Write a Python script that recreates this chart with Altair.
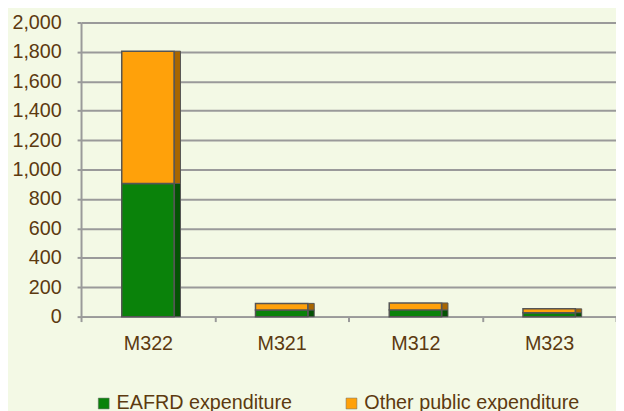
import altair as alt
import pandas as pd

categories = ["M322", "M321", "M312", "M323"]
eafrd = [905, 45, 46, 27]
other = [900, 45, 47, 26]
series = ["EAFRD expenditure", "Other public expenditure"]
front_colors = ["#0a820a", "#ffa10a"]
side_colors = ["#045204", "#a86600"]
y_ticks = list(range(0, 2001, 200))

rows = []
for c, e, o in zip(categories, eafrd, other):
    rows.append({"measure": c, "series": series[0], "value": e, "order": 0})
    rows.append({"measure": c, "series": series[1], "value": o, "order": 1})
df = pd.DataFrame(rows)

text_color = "#5c3a10"
font = "Liberation Sans"
line_gray = "#9a9a9a"

x_scale = alt.Scale(domain=categories, paddingInner=0, paddingOuter=0)
y_scale = alt.Scale(domain=[0, 2000], nice=False)
x_axis = alt.Axis(labelAngle=0, tickBand="extent", tickSize=5, labelPadding=12, grid=False)
y_axis = alt.Axis(values=y_ticks, format=",d", tickSize=4, labelPadding=16, grid=True)

front = alt.Chart(df).mark_bar(size=53, stroke="#555555", strokeWidth=1.5).encode(
    x=alt.X("measure:N", sort=categories, title=None, scale=x_scale, axis=x_axis),
    y=alt.Y("value:Q", stack="zero", title=None, scale=y_scale, axis=y_axis),
    order=alt.Order("order:Q"),
    color=alt.Color(
        "series:N",
        scale=alt.Scale(domain=series, range=front_colors),
        legend=alt.Legend(
            orient="none", legendX=13, legendY=376, direction="horizontal",
            title=None, symbolType="square", symbolSize=121, symbolStrokeWidth=0.5,
            symbolStrokeColor="#666666",
            labelFont=font, labelFontSize=20, labelColor=text_color,
            labelLimit=400, columnPadding=50, labelOffset=3,
        ),
    ),
)

side = alt.Chart(df).mark_bar(size=6, xOffset=30, stroke="#555555", strokeWidth=1).encode(
    x=alt.X("measure:N", sort=categories, title=None, scale=x_scale, axis=x_axis),
    y=alt.Y("value:Q", stack="zero", title=None, scale=y_scale, axis=y_axis),
    order=alt.Order("order:Q"),
    color=alt.Color("series:N", scale=alt.Scale(domain=series, range=side_colors), legend=None),
)

chart = (
    alt.layer(front, side)
    .resolve_scale(color="independent")
    .properties(
        width=542,
        height=298,
        autosize=alt.AutoSizeParams(type="none"),
        padding={"left": 74, "top": 12, "right": 0, "bottom": 100},
    )
    .configure(background="#f3f9e5")
    .configure_view(stroke=None)
    .configure_axis(
        labelFont=font, labelFontSize=20, labelColor=text_color,
        domainColor=line_gray, domainWidth=2, tickColor=line_gray, tickWidth=2,
        gridColor=line_gray, gridWidth=2, gridOpacity=1,
    )
)

chart.save("out.html", embed_options={"renderer": "svg", "actions": False})
